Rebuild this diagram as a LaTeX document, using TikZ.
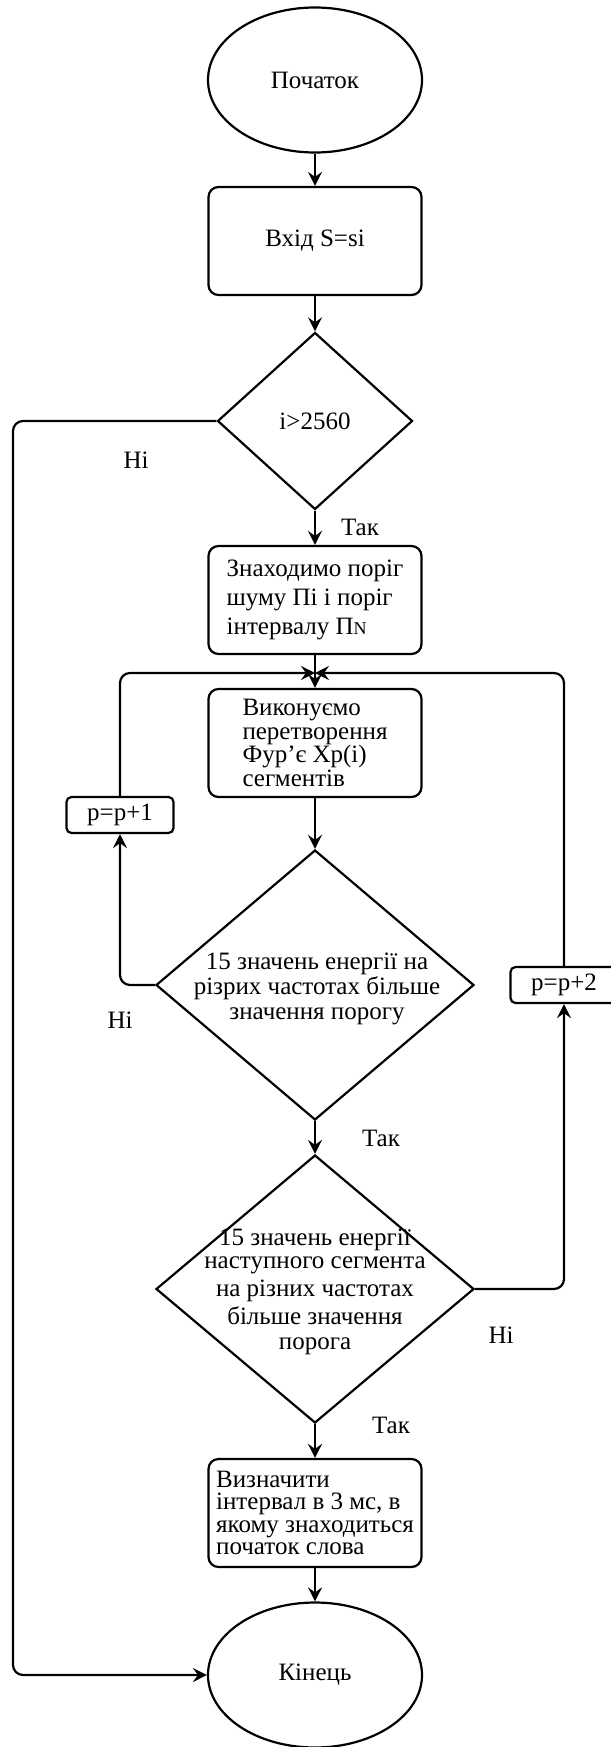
\documentclass[tikz,border=0pt]{standalone}
\usepackage{fontspec}
\setmainfont{Liberation Serif}
\usetikzlibrary{shapes.geometric, arrows.meta, positioning}

\tikzset{
  oval/.style={draw, ellipse, minimum width=214pt, minimum height=145pt, inner sep=0pt},
  box/.style={draw, rounded corners=10pt, minimum width=213pt, minimum height=108pt, align=left, inner sep=0pt},
  rhomb/.style={draw, diamond, inner sep=0pt},
  smallbox/.style={draw, fill=white, rounded corners=5pt, minimum width=107pt, minimum height=36pt, inner sep=0pt},
  line/.style={rounded corners=10pt},
  arr/.style={line, -{Stealth[length=14pt, width=14pt, inset=5pt]}},
}

\begin{document}
\begin{tikzpicture}[x=1pt, y=-1pt, line width=2.2pt, font=\fontsize{25}{29}\selectfont]
\useasboundingbox (0,0) rectangle (610,1747);
% blocks
\node[oval] (start) at (315,80) {Початок};
\node[box] (in) at (315,241) {Вхід S=si};
\node[rhomb, minimum width=195pt, minimum height=177pt] (d1) at (315,421) {i>2560};
\node[box] (find) at (315,600) {Знаходимо поріг\\шуму Пі і поріг\\інтервалу П{\fontsize{18}{18}\selectfont N}};
\node[box, font=\fontsize{25}{23.5}\selectfont] (fourier) at (315,743) {Виконуємо\\перетворення\\Фур'є Xp(i)\\сегментів};
\node[rhomb, minimum width=318pt, minimum height=270pt] (d2) at (315,985) {};
\node[align=center, font=\fontsize{25}{25}\selectfont] (d2text) at (317,989) {15 значень енергії на\\різрих частотах більше\\значення порогу};
\node[rhomb, minimum width=318pt, minimum height=268pt] (d3) at (315,1289) {};
\node[align=center, font=\fontsize{25}{25}\selectfont] (d3text) at (315,1292) {15 значень енергії\\[-2pt]наступного сегмента\\[3pt]на різних частотах\\[3pt]більше значення\\порога};
\node[box, font=\fontsize{25}{22.5}\selectfont] (word) at (315,1513) {Визначити\\інтервал в 3 мс, в\\якому знаходиться\\початок слова};
\node[oval] (stop) at (315,1675) {Кінець};
\node[smallbox] (inc1) at (120,815) {p=p+1};
\node[smallbox] (inc2) at (564,985) {p=p+2};
\coordinate (merge) at (315,673);
\coordinate (leftx) at (13,421);
% labels
\node (no1) at (136,460) {Ні};
\node (yes1) at (360,527) {Так};
\node (no2) at (120,1020) {Ні};
\node (yes2) at (381,1138) {Так};
\node (no3) at (501,1335) {Ні};
\node (yes3) at (391,1425) {Так};
% main flow
\draw[arr] (start) -- (in);
\draw[arr] (in) -- (d1);
\draw[arr] (d1) -- (find);
\draw[arr] (find) -- (fourier);
\draw[arr] (fourier) -- (d2);
\draw[arr] (d2) -- (d3);
\draw[arr] (d3) -- (word);
\draw[arr] (word) -- (stop);
% loops
\draw[arr] (d1.west) -- (leftx) |- (stop.west);
\draw[arr] (d2.west) -| (inc1.south);
\draw[arr] (inc1.north) |- (merge);
\draw[arr] (d3.east) -| (inc2.south);
\draw[arr] (inc2.north) |- (merge);
\end{tikzpicture}
\end{document}
